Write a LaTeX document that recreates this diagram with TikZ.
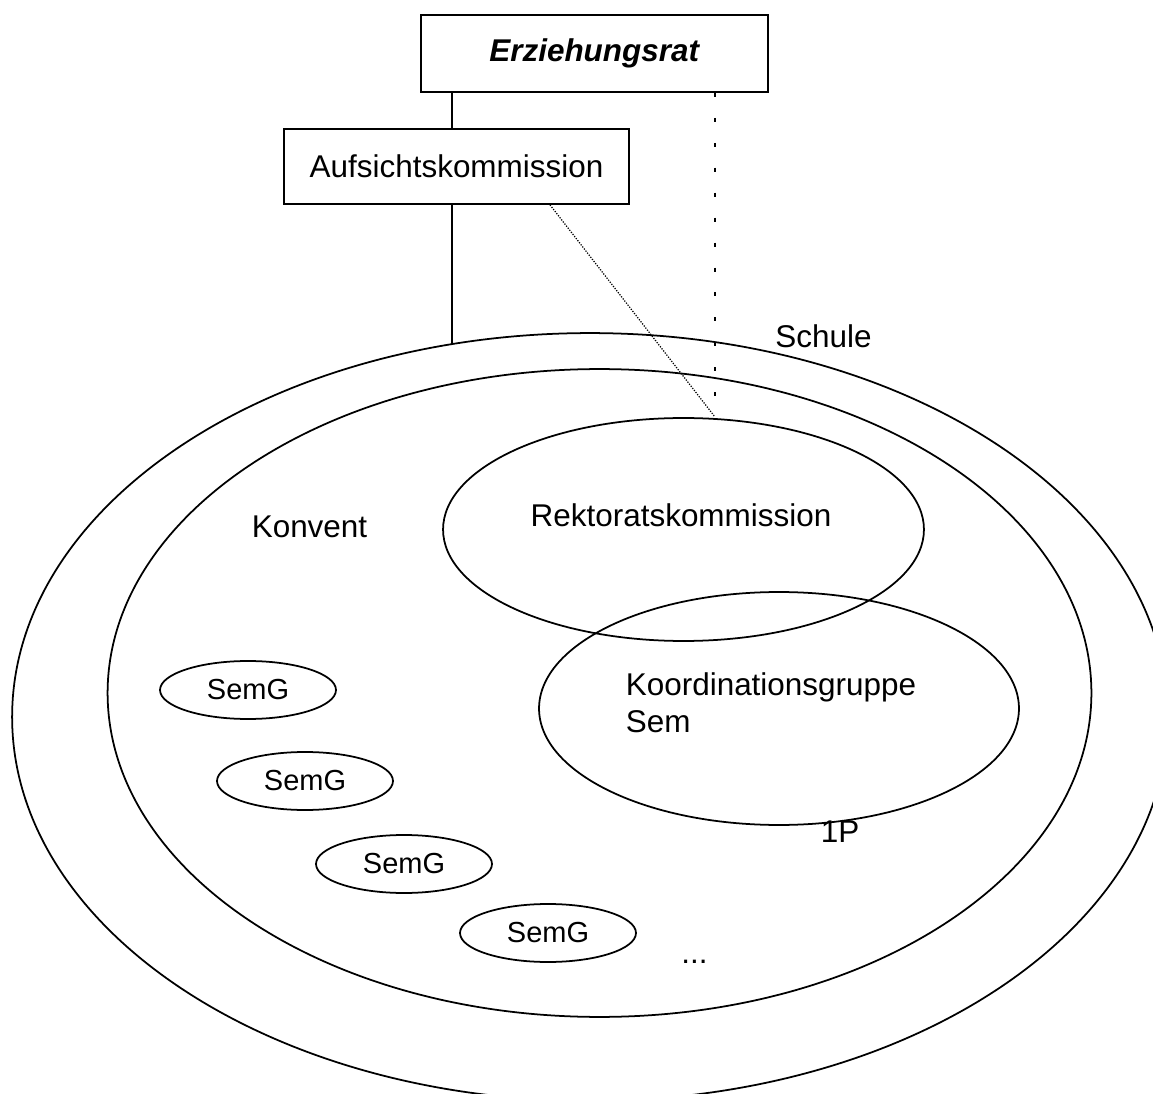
\documentclass[tikz,border=0pt]{standalone}
\usepackage{fontspec}
\setmainfont{Liberation Sans}
\usetikzlibrary{shapes.geometric}

\begin{document}
\begin{tikzpicture}[x=0.02cm,y=-0.02cm,line width=1pt,
  font=\fontsize{17.9}{21}\selectfont,
  box/.style={draw,rectangle,inner sep=0pt},
  oval/.style={draw,ellipse,inner sep=0pt},
  semg/.style={oval,minimum width=3.52cm,minimum height=1.16cm,font=\fontsize{16.5}{20}\selectfont},
  sparse/.style={line width=1.1pt,dash pattern=on 2.3pt off 11.9pt},
  fine/.style={line width=0.7pt,dash pattern=on 0.7pt off 0.8pt}]
\useasboundingbox (0,0) rectangle (1153,1094);
\clip (0,0) rectangle (1153,1094);
% boxes on top
\node[box,minimum width=6.94cm,minimum height=1.54cm,font=\fontsize{17.9}{21}\selectfont\bfseries\itshape] (erz) at (594.2,53.5) {Erziehungsrat};
\node[box,minimum width=6.9cm,minimum height=1.5cm] (auf) at (456.5,166.5) {Aufsichtskommission};
% ellipses
\node[oval,minimum width=23.12cm,minimum height=15.36cm] (schule) at (590,717) {};
\node[oval,minimum width=19.68cm,minimum height=12.96cm] (konvent) at (599.5,693) {};
\node[oval,minimum width=9.62cm,minimum height=4.46cm] (rektorat) at (683.5,529.5) {};
\node[oval,minimum width=9.6cm,minimum height=4.66cm] (koord) at (779,708.5) {};
\node[semg] (semg1) at (248,690) {SemG};
\node[semg] (semg2) at (305,781) {SemG};
\node[semg] (semg3) at (404,864) {SemG};
\node[semg] (semg4) at (548,933) {SemG};
% labels
\node[anchor=base] (schulelbl) at (823.5,348) {Schule};
\node[anchor=base] (konventlbl) at (309.5,538) {Konvent};
\node[anchor=base] (rektoratlbl) at (681,527) {Rektoratskommission};
\node[anchor=north west,inner sep=0pt,align=left] (koordlbl) at (625,672) {Koordinationsgruppe\\Sem};
\node[anchor=base] (plbl) at (840,842) {1P};
\node[anchor=base] (dots) at (694.5,963) {...};
% connectors
\coordinate (link) at (452,0);
\coordinate (schultop) at (452,344);
\coordinate (dotx) at (715,0);
\coordinate (finex) at (550,0);
\coordinate (meet) at (715,417);
\draw (erz.south -| link) -- (auf.north -| link);
\draw (auf.south -| link) -- (schultop);
\draw[sparse] (erz.south -| dotx) -- (meet);
\draw[fine] (auf.south -| finex) -- (meet);
\end{tikzpicture}
\end{document}
